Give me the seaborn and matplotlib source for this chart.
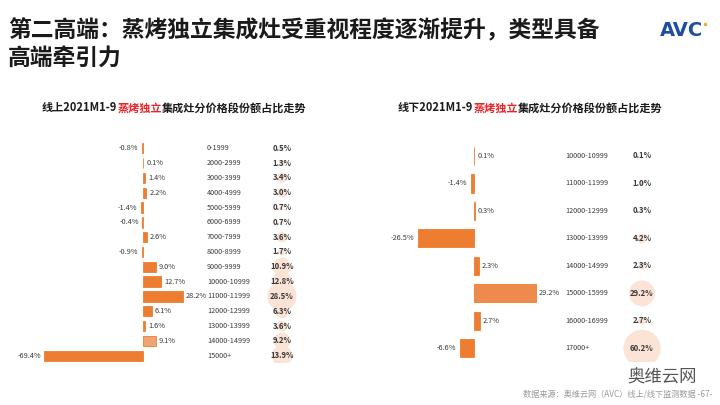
import matplotlib
matplotlib.use("Agg")
import matplotlib.pyplot as plt
import seaborn as sns
import pandas as pd
import numpy as np

# ---------------- data ----------------
online_price = ["0-1999", "2000-2999", "3000-3999", "4000-4999", "5000-5999",
                "6000-6999", "7000-7999", "8000-8999", "9000-9999", "10000-10999",
                "11000-11999", "12000-12999", "13000-13999", "14000-14999", "15000+"]
online_change = [-0.8, 0.1, 1.4, 2.2, -1.4, -0.4, 2.6, -0.9, 9.0, 12.7, 28.2, 6.1, 1.6, 9.1, -69.4]
online_share = [0.5, 1.3, 3.4, 3.0, 0.7, 0.7, 3.6, 1.7, 10.9, 12.8, 28.5, 6.3, 3.6, 9.2, 13.9]

offline_price = ["10000-10999", "11000-11999", "12000-12999", "13000-13999",
                 "14000-14999", "15000-15999", "16000-16999", "17000+"]
offline_change = [0.1, -1.4, 0.3, -26.5, 2.3, 29.2, 2.7, -6.6]
offline_share = [0.1, 1.0, 0.3, 4.2, 2.3, 29.2, 2.7, 60.2]

title_line1 = "第二高端：蒸烤独立集成灶受重视程度逐渐提升，类型具备"
title_line2 = "高端牵引力"
sub_online = ["线上2021M1-9", "蒸烤独立", "集成灶分价格段份额占比走势"]
sub_offline = ["线下2021M1-9", "蒸烤独立", "集成灶分价格段份额占比走势"]
source_text = "数据来源：奥维云网（AVC）线上/线下监测数据 -67-"

# ---------------- style ----------------
sns.set_theme(style="white")
plt.rcParams["font.family"] = ["Noto Sans CJK SC", "DejaVu Sans"]

ORANGE = "#ED7D31"
LIGHT = "#F0A373"
CIRCLE = "#FBE3D6"
TXT = "#3A3A3A"

W, H = 720, 405
fig = plt.figure(figsize=(7.2, 4.05), dpi=100)
fig.patch.set_facecolor("white")


def add_px_axes(x0, y0, x1, y1):
    return fig.add_axes([x0 / W, 1 - y1 / H, (x1 - x0) / W, (y1 - y0) / H])


def panel(ax, prices, change, share, zero_px, x0, x1, px_per_unit, price_x, share_x,
          colors, bar_w, circ_k):
    df = pd.DataFrame({"price": prices, "change": change})
    sns.barplot(data=df, x="change", y="price", hue="price", palette=colors,
                orient="h", ax=ax, width=bar_w, legend=False, saturation=1,
                edgecolor=colors, linewidth=0.6)
    n = len(prices)
    ax.set_xlim(-(zero_px - x0) / px_per_unit, (x1 - zero_px) / px_per_unit)
    ax.set_ylim(n - 0.5, -0.5)
    ax.axis("off")
    # share circles (area proportional to share)
    sizes = [circ_k * s for s in share]
    ax.scatter([share_x] * n, range(n), s=sizes, color=CIRCLE, zorder=1,
               linewidths=0)
    for i, (c, s, p) in enumerate(zip(change, share, prices)):
        if c >= 0:
            ax.annotate(f"{c:.1f}%", xy=(c, i), xytext=(2.2, 0), textcoords="offset points",
                        ha="left", va="center", fontsize=5.3, color=TXT)
        else:
            ax.annotate(f"{c:.1f}%", xy=(c, i), xytext=(-2.5, 0), textcoords="offset points",
                        ha="right", va="center", fontsize=5.3, color=TXT)
        ax.text(price_x, i, p, ha="left", va="center", fontsize=5.2, color=TXT, zorder=3)
        ax.text(share_x, i, f"{s:.1f}%", ha="center", va="center", fontsize=5.6,
                color=TXT, fontweight="bold", zorder=3)


# left panel: rows 148.3 -> 355.7 ; spacing 14.8
axL = add_px_axes(20, 148.3 - 7.4, 350, 355.7 + 7.4)
colorsL = [ORANGE] * len(online_price)
colorsL[13] = LIGHT
panel(axL, online_price, online_change, online_share, zero_px=143, x0=20, x1=350,
      px_per_unit=1.42, price_x=(207 - 143) / 1.42, share_x=(282 - 143) / 1.42,
      colors=colorsL, bar_w=0.7, circ_k=15.5)

# right panel: rows 156 -> 348.3 ; spacing 27.5
axR = add_px_axes(370, 156 - 13.75, 710, 348.3 + 13.75)
colorsR = [ORANGE] * len(offline_price)
colorsR[5] = "#EE8A4C"
panel(axR, offline_price, offline_change, offline_share, zero_px=474, x0=370, x1=710,
      px_per_unit=2.12, price_x=(565 - 474) / 2.12, share_x=(642 - 474) / 2.12,
      colors=colorsR, bar_w=0.66, circ_k=11.9)

# ---------------- overlay text in pixel coordinates ----------------
ov = fig.add_axes([0, 0, 1, 1])
ov.set_xlim(0, W)
ov.set_ylim(H, 0)
ov.axis("off")
ov.patch.set_alpha(0)

ov.text(8, 31, title_line1, fontsize=16.4, fontweight="bold", color="#1A1A1A",
        ha="left", va="center")
ov.text(8, 58, title_line2, fontsize=16.4, fontweight="bold", color="#1A1A1A",
        ha="left", va="center")
ov.text(660, 30, "AVC", fontsize=14, fontweight="heavy",
        color="#1E4E9E", ha="left", va="center", family="DejaVu Sans")
ov.scatter([705], [24], s=6, color="#F5A623", zorder=5, linewidths=0)


def multicolor(x, y, parts, colors, fs):
    t = ov.text(x, y, parts[0], fontsize=fs, fontweight="bold", color=colors[0],
                ha="left", va="center")
    prev = t
    for p, c in zip(parts[1:], colors[1:]):
        prev = ov.annotate(p, xy=(1, 0.5), xycoords=prev, fontsize=fs, fontweight="bold",
                           color=c, ha="left", va="center")


multicolor(42, 108, sub_online, ["#1A1A1A", "#E8262B", "#1A1A1A"], 8)
multicolor(398, 108, sub_offline, ["#1A1A1A", "#E8262B", "#1A1A1A"], 8)

ov.text(627, 378, "奥维云网", fontsize=12.5, color="#555555", ha="left", va="center")
ov.text(712, 394, source_text, fontsize=5.9, color="#9A9A9A", ha="right", va="center")

fig.savefig("out.png", dpi=100, facecolor="white")
